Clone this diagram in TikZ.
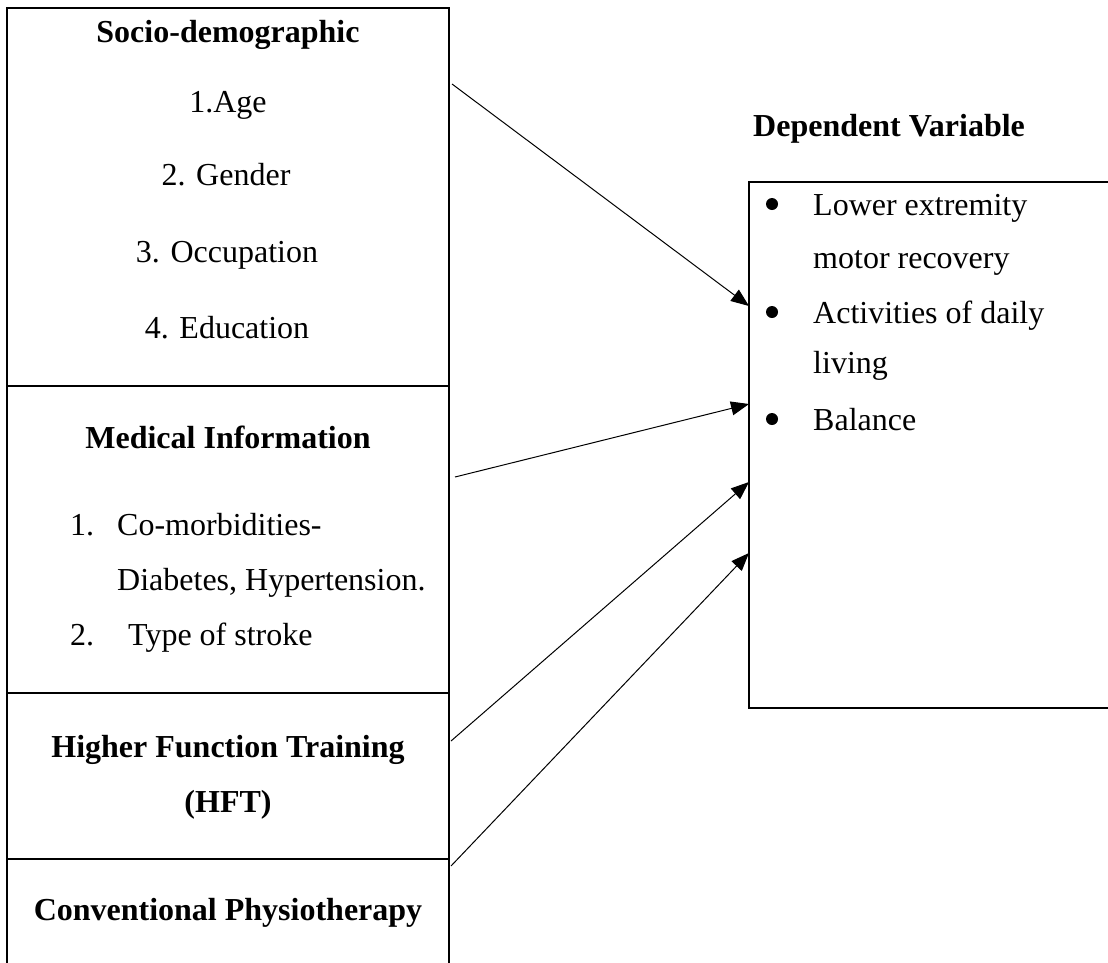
\documentclass[tikz,border=0pt]{standalone}
\usepackage{fontspec}
\setmainfont{Liberation Serif}
\usetikzlibrary{arrows.meta}
\tikzset{
  txt/.style={inner sep=0pt, anchor=base, font=\fontsize{32}{38}\selectfont},
  txtl/.style={inner sep=0pt, anchor=base west, font=\fontsize{32}{38}\selectfont},
  hd/.style={inner sep=0pt, anchor=base, font=\fontsize{32}{38}\selectfont\bfseries},
  hdl/.style={inner sep=0pt, anchor=base west, font=\fontsize{32}{38}\selectfont\bfseries},
  bul/.style={circle, fill=black, inner sep=0pt, minimum size=12pt},
  frame/.style={line width=1.6pt, line cap=rect},
  conn/.style={line width=1pt, -{Triangle[length=18pt,width=14pt]}}
}
\begin{document}
\begin{tikzpicture}[x=1pt,y=-1pt]
\useasboundingbox (0,0) rectangle (1108,962);
% left box
\draw[frame] (7,962) -- (7,8) -- (449,8) -- (449,962);
\draw[frame] (7,386) -- (449,386);
\draw[frame] (7,693) -- (449,693);
\draw[frame] (7,859) -- (449,859);
% right box
\draw[frame] (1108,182) -- (749,182) -- (749,708) -- (1108,708);
% left texts
\node[hd] (sdh) at (228,42) {Socio-demographic};
\node[txt] (age) at (228,112) {1.Age};
\node[txt] (gen) at (226,185) {2. Gender};
\node[txt] (occ) at (227,262) {3. Occupation};
\node[txt] (edu) at (227,338) {4. Education};
\node[hd] (mih) at (228,448) {Medical Information};
\node[txtl] (n1) at (70,535) {1.};
\node[txtl] (com) at (117,535) {Co-morbidities-};
\node[txtl] (dia) at (117,590) {Diabetes, Hypertension.};
\node[txtl] (n2) at (70,645) {2.};
\node[txtl] (tos) at (128,645) {Type of stroke};
\node[hd] (hft1) at (228,757) {Higher Function Training};
\node[hd] (hft2) at (228,812) {(HFT)};
\node[hd] (cph) at (228,920) {Conventional Physiotherapy};
% right texts
\node[hdl] (dvh) at (753,136) {Dependent Variable};
\node[bul] (b1) at (772,204) {};
\node[txtl] (l1) at (813,215) {Lower extremity};
\node[txtl] (l1b) at (813,268) {motor recovery};
\node[bul] (b2) at (772,312) {};
\node[txtl] (l2) at (813,323) {Activities of daily};
\node[txtl] (l2b) at (813,373) {living};
\node[bul] (b3) at (772,419) {};
\node[txtl] (l3) at (813,430) {Balance};
% connector endpoints
\coordinate (s1) at (452,84);
\coordinate (s2) at (455,477);
\coordinate (s3) at (451,741);
\coordinate (s4) at (451,866);
\coordinate (t1) at (749,306);
\coordinate (t2) at (749,404);
\coordinate (t3) at (749,482);
\coordinate (t4) at (749,553);
\draw[conn] (s1) -- (t1);
\draw[conn] (s2) -- (t2);
\draw[conn] (s3) -- (t3);
\draw[conn] (s4) -- (t4);
\end{tikzpicture}
\end{document}
